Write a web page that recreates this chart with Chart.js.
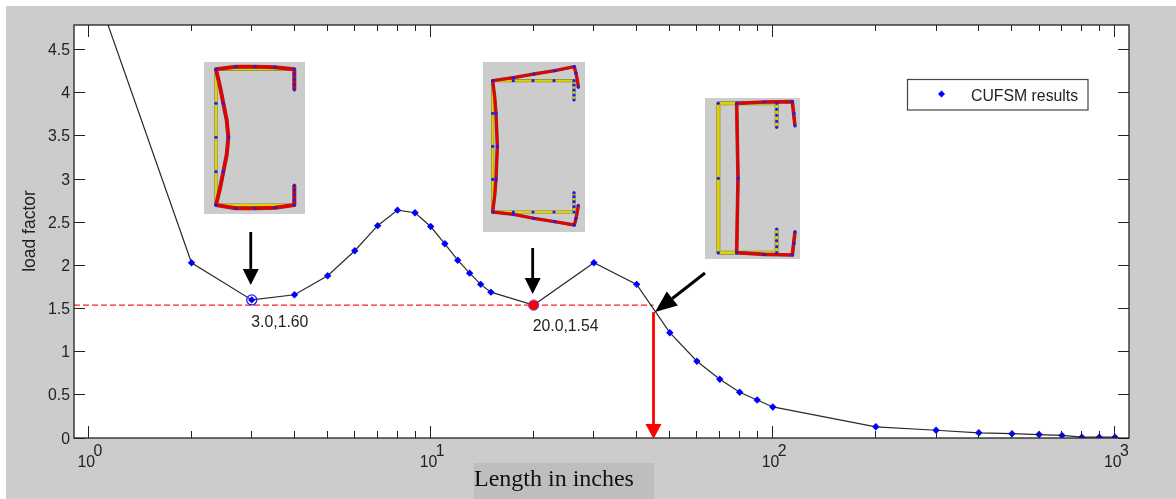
<!DOCTYPE html>
<html>
<head>
<meta charset="utf-8">
<title>CUFSM signature curve</title>
<style>
  html, body { margin: 0; padding: 0; background: #fff; }
  #wrap { width: 1176px; height: 499px; position: relative; }
</style>
<script src="https://cdn.jsdelivr.net/npm/chart.js@4"></script>
</head>
<body>
<div id="wrap"><canvas id="chart" width="1176" height="499"></canvas></div>
<script>
const lengths = [1, 2, 3, 4, 5, 6, 7, 8, 9, 10, 11, 12, 13, 14, 15, 20, 30, 40, 50, 60, 70, 80, 90, 100, 200, 300, 400, 500, 600, 700, 800, 900, 1000];
const loadFactors = [5.43, 2.03, 1.60, 1.66, 1.88, 2.17, 2.46, 2.64, 2.61, 2.45, 2.25, 2.06, 1.91, 1.78, 1.69, 1.54, 2.03, 1.78, 1.22, 0.89, 0.68, 0.53, 0.44, 0.36, 0.13, 0.09, 0.06, 0.05, 0.04, 0.03, 0.01, 0.01, 0.01];
const localPoint = [3, 1.60];
const distortionalPoint = [20, 1.54];
const globalPoint = [44.8, 1.54];
const yTicks = [0, 0.5, 1, 1.5, 2, 2.5, 3, 3.5, 4, 4.5];
const xMajorTicks = [1, 10, 100, 1000];
const xMinorTicks = [2, 3, 4, 5, 6, 7, 8, 9, 20, 30, 40, 50, 60, 70, 80, 90, 200, 300, 400, 500, 600, 700, 800, 900];
const xExponents = ['0', '1', '2', '3'];
const seriesName = 'CUFSM results';
const xTitle = 'Length in inches';
const yTitle = 'load factor';

// cross section sketches, in the coordinates of their own little picture (3 units = 1px)
const sections = [
  {
    box: [204, 62, 101, 152], origin: [190, 50], redWidth: 3.1, yellowWidth: 2.2,
    yellow: [[[313, 120], [313, 58], [78, 58], [78, 465], [313, 465], [313, 405]]],
    red: [[[313, 120], [313, 58], [255, 52], [196, 50], [137, 50], [78, 58], [90, 110], [100, 160], [110, 210], [115, 262], [110, 315], [100, 365], [90, 415], [78, 465], [137, 475], [196, 475], [255, 473], [313, 465], [313, 405]]],
    nodes: [[78, 58], [78, 160], [78, 262], [78, 365], [78, 465], [100, 160], [115, 262], [100, 365], [137, 50], [196, 50], [255, 52], [137, 475], [196, 475], [255, 473], [313, 58], [313, 72], [313, 88], [313, 104], [313, 120], [313, 465], [313, 450], [313, 435], [313, 420], [313, 405]]
  },
  {
    box: [483, 62, 102, 170], origin: [470, 50], redWidth: 2.5, yellowWidth: 2.2,
    yellow: [[[312, 150], [312, 92], [68, 92], [68, 486], [312, 486], [312, 428]]],
    red: [[[325, 112], [322, 90], [318, 70], [313, 50], [254, 62], [192, 72], [130, 83], [68, 92], [74, 140], [78, 190], [82, 289], [78, 388], [74, 438], [68, 486], [130, 493], [192, 505], [254, 515], [313, 525], [318, 505], [322, 485], [325, 466]]],
    nodes: [[68, 92], [68, 190], [68, 289], [68, 388], [68, 486], [78, 190], [82, 289], [78, 388], [130, 92], [189, 92], [252, 92], [130, 486], [189, 486], [252, 486], [130, 83], [192, 72], [254, 62], [313, 50], [130, 493], [192, 505], [254, 515], [313, 525], [325, 112], [318, 70], [325, 466], [318, 505], [312, 92], [312, 105], [312, 120], [312, 135], [312, 150], [312, 486], [312, 470], [312, 455], [312, 440], [312, 428]]
  },
  {
    box: [705, 98, 95, 161], origin: [695, 90], redWidth: 2.7, yellowWidth: 3,
    yellow: [[[245, 112], [245, 40], [70, 40], [70, 488], [245, 488], [245, 417]]],
    red: [[[300, 108], [292, 35], [208, 36], [125, 40], [129, 265], [125, 488], [208, 493], [292, 495], [300, 425]]],
    nodes: [[70, 40], [70, 265], [70, 488], [125, 40], [129, 265], [125, 488], [208, 36], [208, 493], [292, 35], [292, 495], [300, 108], [297, 70], [300, 425], [297, 460], [245, 40], [245, 58], [245, 76], [245, 94], [245, 112], [245, 488], [245, 470], [245, 452], [245, 434], [245, 417]]
  }
];

const SANS = '"Liberation Sans", Arial, sans-serif';
const TEXT_SQUEEZE = 0.93;

// the screenshot's text is a bit narrower than the font, so squeeze it along x
function squeezedText(ctx, text, px, py, align) {
  ctx.save();
  ctx.font = '17px ' + SANS;
  ctx.textAlign = align || 'left';
  ctx.textBaseline = 'alphabetic';
  ctx.translate(px, py);
  ctx.scale(TEXT_SQUEEZE, 1);
  ctx.fillText(text, 0, 0);
  ctx.restore();
}

function strokePath(ctx, pts, origin) {
  ctx.beginPath();
  pts.forEach((p, i) => {
    const px = origin[0] + p[0] / 3;
    const py = origin[1] + p[1] / 3;
    if (i === 0) ctx.moveTo(px, py); else ctx.lineTo(px, py);
  });
  ctx.stroke();
}

function drawSection(ctx, s) {
  ctx.fillStyle = '#cccccc';
  ctx.fillRect(s.box[0], s.box[1], s.box[2], s.box[3]);
  ctx.lineJoin = 'round';
  s.yellow.forEach(path => {
    ctx.strokeStyle = '#85852f';
    ctx.lineWidth = s.yellowWidth + 1;
    strokePath(ctx, path, s.origin);
    ctx.strokeStyle = '#e0d400';
    ctx.lineWidth = s.yellowWidth - 0.2;
    strokePath(ctx, path, s.origin);
  });
  s.red.forEach(path => {
    ctx.strokeStyle = '#7a3a3a';
    ctx.lineWidth = s.redWidth + 0.9;
    strokePath(ctx, path, s.origin);
    ctx.strokeStyle = '#e60000';
    ctx.lineWidth = s.redWidth;
    strokePath(ctx, path, s.origin);
  });
  ctx.fillStyle = '#1c1cf0';
  s.nodes.forEach(n => {
    ctx.beginPath();
    ctx.arc(s.origin[0] + n[0] / 3, s.origin[1] + n[1] / 3, 1.6, 0, Math.PI * 2);
    ctx.fill();
  });
}

function drawArrow(ctx, x1, y1, x2, y2, color, width, headLen, headHalf) {
  const a = Math.atan2(y2 - y1, x2 - x1);
  ctx.strokeStyle = color;
  ctx.fillStyle = color;
  ctx.lineWidth = width;
  ctx.beginPath();
  ctx.moveTo(x1, y1);
  ctx.lineTo(x2 - Math.cos(a) * headLen, y2 - Math.sin(a) * headLen);
  ctx.stroke();
  ctx.beginPath();
  ctx.moveTo(x2, y2);
  ctx.lineTo(x2 - Math.cos(a) * headLen - Math.sin(a) * headHalf, y2 - Math.sin(a) * headLen + Math.cos(a) * headHalf);
  ctx.lineTo(x2 - Math.cos(a) * headLen + Math.sin(a) * headHalf, y2 - Math.sin(a) * headLen - Math.cos(a) * headHalf);
  ctx.closePath();
  ctx.fill();
}

// grey figure panel goes in behind everything
const panelPlugin = {
  id: 'panel',
  beforeDraw(chart) {
    const {ctx, chartArea: a} = chart;
    ctx.save();
    ctx.fillStyle = '#cccccc';
    ctx.fillRect(6, 6, 1170, 493);
    ctx.fillStyle = '#ffffff';
    ctx.fillRect(a.left, a.top, a.right - a.left, a.bottom - a.top);
    ctx.restore();
  }
};

// matlab box: inward ticks on all four sides, tick labels, legend, annotations
const matlabPlugin = {
  id: 'matlab',
  afterDraw(chart) {
    const {ctx, chartArea: a, scales: {x, y}} = chart;
    ctx.save();

    ctx.strokeStyle = '#222222';
    ctx.lineWidth = 1;
    const tick = (x1, y1, x2, y2) => {
      ctx.beginPath();
      ctx.moveTo(x1, y1);
      ctx.lineTo(x2, y2);
      ctx.stroke();
    };
    yTicks.forEach(v => {
      const py = Math.floor(y.getPixelForValue(v)) + 0.5;
      tick(a.left, py, a.left + 11, py);
      tick(a.right, py, a.right - 11, py);
    });
    xMajorTicks.forEach(v => {
      const px = Math.floor(x.getPixelForValue(v)) + 0.5;
      tick(px, a.bottom, px, a.bottom - 12);
      tick(px, a.top, px, a.top + 12);
    });
    xMinorTicks.forEach(v => {
      const px = Math.floor(x.getPixelForValue(v)) + 0.5;
      tick(px, a.bottom, px, a.bottom - 7);
      tick(px, a.top, px, a.top + 6);
    });
    ctx.lineWidth = 1.3;
    ctx.strokeRect(a.left, a.top, a.right - a.left, a.bottom - a.top);

    ctx.fillStyle = '#222222';
    yTicks.forEach(v => {
      squeezedText(ctx, String(v), 70, y.getPixelForValue(v) + 5.5, 'right');
    });
    xMajorTicks.forEach((v, i) => {
      const px = x.getPixelForValue(v);
      squeezedText(ctx, '10', px - 11, 467);
      squeezedText(ctx, xExponents[i], px + 5, 456);
    });

    // y title
    ctx.save();
    ctx.translate(35, 231);
    ctx.rotate(-Math.PI / 2);
    ctx.textAlign = 'center';
    ctx.textBaseline = 'alphabetic';
    ctx.font = '17.5px ' + SANS;
    ctx.fillText(yTitle, 0, 0);
    ctx.restore();

    // x title sits on its own darker strip
    ctx.fillStyle = '#bebebe';
    ctx.fillRect(474, 463, 180, 36);
    ctx.fillStyle = '#111111';
    ctx.textAlign = 'left';
    ctx.font = '24px "Liberation Serif", "Times New Roman", serif';
    ctx.fillText(xTitle, 474, 486);

    // legend
    ctx.fillStyle = '#ffffff';
    ctx.fillRect(907, 79, 181, 31);
    ctx.strokeStyle = '#444444';
    ctx.lineWidth = 1.2;
    ctx.strokeRect(907.5, 79.5, 180.5, 30.5);
    ctx.fillStyle = '#0000ff';
    ctx.beginPath();
    ctx.moveTo(941.5, 90.5);
    ctx.lineTo(945, 94);
    ctx.lineTo(941.5, 97.5);
    ctx.lineTo(938, 94);
    ctx.closePath();
    ctx.fill();
    ctx.fillStyle = '#222222';
    squeezedText(ctx, seriesName, 971, 101);

    // critical point labels
    squeezedText(ctx, localPoint[0].toFixed(1) + ',' + localPoint[1].toFixed(2), x.getPixelForValue(localPoint[0]) - 0.5, 327);
    squeezedText(ctx, distortionalPoint[0].toFixed(1) + ',' + distortionalPoint[1].toFixed(2), x.getPixelForValue(distortionalPoint[0]) - 1, 331);

    sections.forEach(s => drawSection(ctx, s));

    // arrows pointing at the three minima
    const lx = x.getPixelForValue(localPoint[0]);
    const dx = x.getPixelForValue(distortionalPoint[0]);
    const gx = x.getPixelForValue(globalPoint[0]);
    const gy = y.getPixelForValue(globalPoint[1]);
    drawArrow(ctx, lx - 1, 232, lx - 1, 285, '#000000', 2.8, 16, 8);
    drawArrow(ctx, dx - 1, 248, dx - 1, 294, '#000000', 2.8, 16, 8);
    drawArrow(ctx, 705, 273, gx + 1.5, gy + 7, '#000000', 3, 22, 9);
    drawArrow(ctx, gx, gy + 7, gx, a.bottom + 1, '#ff0000', 2.8, 15, 8);

    ctx.restore();
  }
};

new Chart(document.getElementById('chart').getContext('2d'), {
  type: 'line',
  data: {
    labels: lengths,
    datasets: [
      {
        label: 'critical',
        data: [{x: 0.907, y: globalPoint[1]}, {x: globalPoint[0], y: globalPoint[1]}],
        borderColor: '#ff2020',
        borderWidth: 1.3,
        borderDash: [6, 3],
        pointRadius: 0,
        order: 3
      },
      {
        label: seriesName,
        data: lengths.map((v, i) => ({x: v, y: loadFactors[i]})),
        borderColor: '#2a2a2a',
        borderWidth: 1.2,
        pointStyle: 'rectRot',
        pointRadius: 3.7,
        pointBackgroundColor: '#0000ff',
        pointBorderColor: '#0000ff',
        pointBorderWidth: 0,
        tension: 0,
        order: 2
      },
      {
        label: 'local',
        data: [{x: localPoint[0], y: localPoint[1]}],
        showLine: false,
        pointStyle: 'circle',
        pointRadius: 5,
        pointBackgroundColor: 'rgba(255,255,255,0)',
        pointBorderColor: '#1a1aff',
        pointBorderWidth: 1.3,
        order: 1
      },
      {
        label: 'distortional',
        data: [{x: distortionalPoint[0], y: distortionalPoint[1]}],
        showLine: false,
        pointStyle: 'circle',
        pointRadius: 5.2,
        pointBackgroundColor: '#ff0000',
        pointBorderColor: '#5050ff',
        pointBorderWidth: 0.8,
        order: 1
      }
    ]
  },
  plugins: [panelPlugin, matlabPlugin],
  options: {
    responsive: false,
    animation: false,
    layout: {padding: {left: 0, top: 25, right: 47, bottom: 0}},
    plugins: {legend: {display: false}, title: {display: false}, tooltip: {enabled: false}},
    scales: {
      x: {
        type: 'logarithmic',
        min: 0.907,
        max: 1099,
        grid: {display: false, drawTicks: false},
        border: {display: false},
        ticks: {display: false},
        afterFit(scale) { scale.height = 61; }
      },
      y: {
        min: 0,
        max: 4.785,
        grid: {display: false, drawTicks: false},
        border: {display: false},
        ticks: {display: false},
        afterFit(scale) { scale.width = 74; }
      }
    }
  }
});
</script>
</body>
</html>
